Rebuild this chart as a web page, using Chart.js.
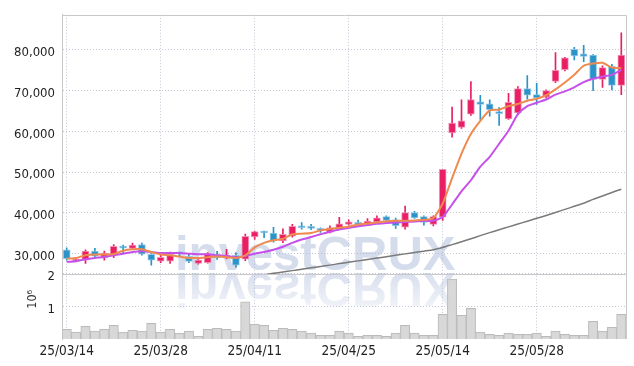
<!DOCTYPE html>
<html>
<head>
<meta charset="utf-8">
<script src="https://cdn.jsdelivr.net/npm/chart.js@4"></script>
<style>
  html, body { margin: 0; padding: 0; background: #fff; }
  #chart { display: block; }
</style>
</head>
<body>
<canvas id="chart" width="634" height="366"></canvas>
<script>
// trading days, 25/03/14 .. 25/06/12
const dates = [
    "25/03/14", "25/03/17", "25/03/18", "25/03/19", "25/03/20", "25/03/21", "25/03/24", "25/03/25", "25/03/26", "25/03/27",
    "25/03/28", "25/03/31", "25/04/01", "25/04/02", "25/04/03", "25/04/04", "25/04/07", "25/04/08", "25/04/09", "25/04/10",
    "25/04/11", "25/04/14", "25/04/15", "25/04/16", "25/04/17", "25/04/18", "25/04/21", "25/04/22", "25/04/23", "25/04/24",
    "25/04/25", "25/04/28", "25/04/29", "25/04/30", "25/05/02", "25/05/07", "25/05/08", "25/05/09", "25/05/12", "25/05/13",
    "25/05/14", "25/05/15", "25/05/16", "25/05/19", "25/05/20", "25/05/21", "25/05/22", "25/05/23", "25/05/26", "25/05/27",
    "25/05/28", "25/05/29", "25/05/30", "25/06/02", "25/06/04", "25/06/05", "25/06/09", "25/06/10", "25/06/11", "25/06/12"
];

const openPrices = [
    30940, 28150, 28380, 30630, 29010, 29660, 31470, 31280, 32240, 29830,
    28140, 28140, 30240, 29350, 27560, 27800, 29740, 28940, 29590, 28620,
    34080, 35380, 35050, 33120, 34250, 36670, 36500, 36010, 35220, 36180,
    37150, 37630, 37320, 37800, 39080, 38280, 36500, 40050, 39080, 37150,
    38910, 59610, 60980, 64200, 67260, 66780, 64680, 63060, 64510, 70480,
    69020, 68380, 72240, 75140, 80130, 79000, 78690, 72720, 75950, 71270
];
const highPrices = [
    31420, 28700, 30940, 31280, 30630, 32240, 32070, 32560, 32560, 30000,
    29590, 30390, 30400, 29830, 28530, 30240, 30580, 31040, 30170, 34810,
    35540, 35540, 36440, 36050, 37150, 37630, 37150, 36350, 36830, 38900,
    38300, 38200, 38600, 39250, 39250, 38700, 41660, 40370, 39250, 39250,
    50670, 65960, 67750, 72240, 68860, 67750, 65810, 69340, 70960, 73690,
    71760, 70160, 79340, 78190, 80620, 81100, 78850, 76100, 76440, 84170
];
const lowPrices = [
    28380, 28050, 27560, 29010, 28380, 29010, 30000, 31100, 29600, 27180,
    27800, 27560, 29300, 27800, 27420, 27640, 28570, 28700, 26690, 28290,
    33500, 33900, 32800, 32700, 34000, 35990, 35870, 35220, 35050, 36020,
    37000, 37000, 37150, 37630, 37800, 36180, 36020, 38600, 36980, 36800,
    38110, 58570, 60740, 63880, 62920, 63710, 61470, 62920, 64200, 67900,
    66610, 68230, 71920, 74840, 77550, 77070, 69990, 70800, 70160, 69030
];
const closePrices = [
    28770, 28620, 30630, 29350, 30140, 31760, 31350, 32080, 29830, 28380,
    29100, 29830, 29950, 28050, 28380, 30000, 28940, 29590, 27170, 34250,
    35380, 35050, 33120, 34730, 36670, 36350, 36180, 35700, 36350, 37320,
    37800, 37150, 37950, 38770, 38110, 36830, 40050, 38770, 37630, 39080,
    50670, 62020, 62580, 67820, 66610, 65330, 64360, 67090, 70480, 68860,
    68230, 70000, 74990, 78030, 78520, 78370, 72720, 75620, 71270, 78690
];

// moving average lines
const ma5 = [
    28770, 28940, 29590, 29750, 29750, 29900, 30700, 31040, 31040, 30390,
    29750, 29590, 29260, 28940, 28940, 29100, 29260, 29100, 28940, 29590,
    31520, 32640, 33280, 33600, 34730, 34890, 35050, 35700, 36010, 36350,
    36600, 37150, 37390, 37630, 37950, 38040, 38040, 38110, 38280, 38670,
    42300, 48500, 54540, 59370, 62580, 65160, 65330, 66200, 66700, 67500,
    68000, 68860, 70300, 72000, 73900, 76100, 76640, 76830, 75670, 75500
];
const ma20 = [
    27970, 28140, 28620, 28940, 29180, 29590, 29980, 30390, 30550, 30390,
    30140, 30140, 30140, 29980, 29820, 29820, 29590, 29420, 29100, 29420,
    29980, 30390, 30940, 31670, 32640, 33450, 34080, 34730, 35380, 35900,
    36300, 36700, 37000, 37320, 37480, 37630, 37750, 37870, 38040, 38040,
    39000, 42050, 45290, 48000, 51320, 53740, 56950, 60160, 64200, 66200,
    67020, 67820, 69020, 69820, 70790, 72090, 72890, 73450, 73860, 75060
];
const ma120 = [
    null, null, null, null, null, null, null, null, null, null,
    null, null, null, null, null, null, null, null, null, null,
    null, 24780, 25150, 25480, 25820, 26160, 26500, 26840, 27170, 27540,
    27870, 28210, 28550, 28890, 29230, 29590, 29930, 30270, 30600, 30940,
    31500, 32200, 32900, 33650, 34400, 35150, 35850, 36550, 37250, 37950,
    38650, 39350, 40100, 40850, 41600, 42350, 43300, 44150, 45000, 45800
];

// volume in millions of shares
const volumes = [
    0.30, 0.21, 0.39, 0.24, 0.30, 0.42, 0.21, 0.27, 0.24, 0.48,
    0.21, 0.30, 0.18, 0.24, 0.08, 0.30, 0.33, 0.30, 0.24, 1.14,
    0.45, 0.42, 0.27, 0.33, 0.30, 0.24, 0.18, 0.11, 0.11, 0.24,
    0.18, 0.08, 0.11, 0.11, 0.08, 0.18, 0.42, 0.18, 0.11, 0.11,
    0.76, 1.84, 0.73, 0.94, 0.21, 0.14, 0.11, 0.18, 0.14, 0.14,
    0.18, 0.08, 0.24, 0.14, 0.11, 0.11, 0.54, 0.24, 0.36, 0.76
];

const priceTicks = [30000, 40000, 50000, 60000, 70000, 80000];
const volumeTicks = [1, 2];
const dateTickIndex = [0, 10, 20, 30, 40, 50];

const UP = "#E91E63";
const DOWN = "#2B93C8";
const GRID = "#c4c8d6";
const FONT = "'DejaVu Sans Condensed', 'DejaVu Sans', sans-serif";

const candleColors = openPrices.map((o, i) => closePrices[i] >= o ? UP : DOWN);
const bodyBorders = openPrices.map((o, i) => closePrices[i] >= o ? "rgba(240,140,180,0.9)" : "rgba(140,195,230,0.9)");

// watermark with reflection, behind the marks
const watermark = {
    id: "watermark",
    beforeDatasetsDraw(chart) {
        const ctx = chart.ctx;
        const text = "investCRUX";
        const x = 175, base = 270;
        ctx.save();
        ctx.font = "bold 49px 'Liberation Sans', sans-serif";
        ctx.textBaseline = "alphabetic";
        ctx.fillStyle = "rgba(160,175,212,0.44)";
        ctx.fillText(text, x, base);
        // mirrored copy
        ctx.translate(0, 2 * base + 3);
        ctx.scale(1, -1);
        const g = ctx.createLinearGradient(0, base, 0, base - 42);
        g.addColorStop(0, "rgba(160,175,212,0.40)");
        g.addColorStop(1, "rgba(160,175,212,0.10)");
        ctx.fillStyle = g;
        ctx.fillText(text, x, base);
        ctx.restore();
    },
    afterDraw(chart) {
        const ctx = chart.ctx;
        const a = chart.chartArea;
        const y = Math.round(chart.scales.y.bottom) + 0.5;
        ctx.save();
        ctx.strokeStyle = "#c9c9c9";
        ctx.lineWidth = 1;
        ctx.beginPath();
        ctx.moveTo(a.left, Math.round(a.top) + 0.5);
        ctx.lineTo(Math.round(a.right) + 0.5, Math.round(a.top) + 0.5);
        ctx.lineTo(Math.round(a.right) + 0.5, a.bottom);
        ctx.moveTo(a.left, y);
        ctx.lineTo(a.right, y);
        ctx.stroke();
        ctx.restore();
    }
};

const ctx = document.getElementById("chart").getContext("2d");
new Chart(ctx, {
    type: "bar",
    data: {
        labels: dates,
        datasets: [
            {
                type: "line", label: "MA5", data: ma5, yAxisID: "y", order: 1,
                borderColor: "#EF8A4F", borderWidth: 2, pointRadius: 0, tension: 0.2
            },
            {
                type: "line", label: "MA20", data: ma20, yAxisID: "y", order: 1,
                borderColor: "#C650EA", borderWidth: 2, pointRadius: 0, tension: 0.2
            },
            {
                label: "body", yAxisID: "y", order: 2, grouped: false,
                data: openPrices.map((o, i) => [Math.min(o, closePrices[i]), Math.max(o, closePrices[i])]),
                backgroundColor: candleColors, borderColor: bodyBorders, borderWidth: 1,
                borderSkipped: false, barThickness: 7, minBarLength: 2
            },
            {
                label: "wick", yAxisID: "y", order: 3, grouped: false,
                data: lowPrices.map((l, i) => [l, highPrices[i]]),
                backgroundColor: candleColors, barThickness: 1
            },
            {
                type: "line", label: "MA120", data: ma120, yAxisID: "y", order: 4,
                borderColor: "#7a7a7a", borderWidth: 1.5, pointRadius: 0, tension: 0.2
            },
            {
                label: "volume", data: volumes, yAxisID: "yv", order: 5, grouped: false,
                backgroundColor: "rgba(214,214,214,0.95)", borderColor: "#bbbbbb", borderWidth: 1,
                categoryPercentage: 1, barPercentage: 1
            }
        ]
    },
    options: {
        responsive: false,
        animation: false,
        layout: { padding: { top: 9, right: 8, left: 0, bottom: 0 } },
        plugins: { legend: { display: false }, tooltip: { enabled: false } },
        scales: {
            x: {
                offset: true,
                grid: { offset: false, color: GRID, drawTicks: false },
                border: { display: false, dash: [1, 2] },
                ticks: { autoSkip: false, maxRotation: 0, padding: 4, color: "#222", font: { family: FONT, size: 13.5 } },
                afterBuildTicks: s => { s.ticks = dateTickIndex.map(i => ({ value: i })); },
                afterFit: s => { s.height = 27; }
            },
            // volume panel first so the price panel is stacked on top of it
            yv: {
                position: "left", stack: "main", stackWeight: 66,
                min: 0, max: 2,
                grid: { color: GRID, drawTicks: false },
                border: { color: "#c9c9c9", dash: [1, 2] },
                title: { display: true, text: "    10\u2076", color: "#333", font: { family: FONT, size: 12.5 }, padding: { top: 25 } },
                ticks: { padding: 7, labelOffset: 3, color: "#222", font: { family: FONT, size: 13 } },
                afterBuildTicks: s => { s.ticks = volumeTicks.map(v => ({ value: v })); },
                afterFit: s => { s.width = 62; }
            },
            y: {
                position: "left", stack: "main", stackWeight: 263,
                min: 25000, max: 88600,
                grid: { color: GRID, drawTicks: false },
                border: { color: "#c9c9c9", dash: [1, 2] },
                ticks: {
                    padding: 7, labelOffset: 3, color: "#222", font: { family: FONT, size: 13 },
                    callback: v => v.toLocaleString("en-US")
                },
                afterBuildTicks: s => { s.ticks = priceTicks.map(v => ({ value: v })); },
                afterFit: s => { s.width = 62; }
            }
        }
    },
    plugins: [watermark]
});
</script>
</body>
</html>
